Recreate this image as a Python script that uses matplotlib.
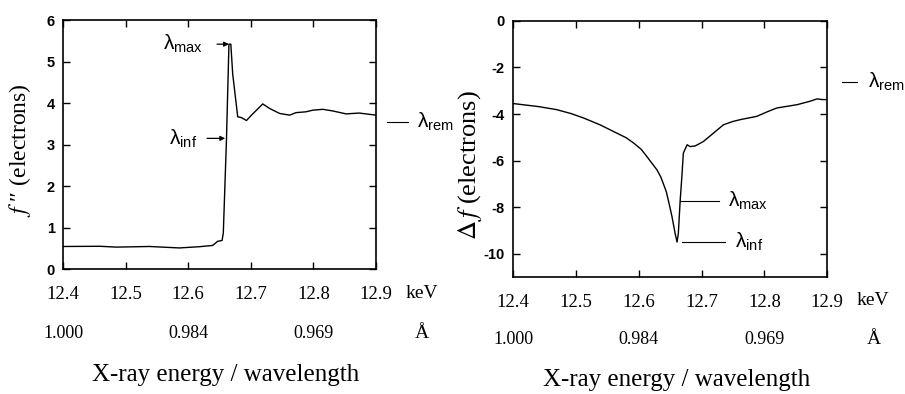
"""
Anomalous scattering factors f'' and delta-f across an absorption edge
"""
import matplotlib
matplotlib.use("Agg")
import matplotlib.pyplot as plt
from matplotlib.transforms import blended_transform_factory

plt.rcParams['mathtext.fontset'] = 'stix'

# f'' trace (keV, electrons)
fpp_kev = [12.400, 12.459, 12.485, 12.538, 12.586, 12.618, 12.639, 12.647, 12.654,
           12.656, 12.661, 12.665, 12.668, 12.671, 12.679, 12.685, 12.693, 12.701,
           12.709, 12.719, 12.730, 12.746, 12.762, 12.772, 12.788, 12.799, 12.815,
           12.831, 12.852, 12.873, 12.889, 12.900]
fpp_val = [0.545, 0.55, 0.53, 0.545, 0.51, 0.54, 0.57, 0.67, 0.69,
           0.87, 3.1, 5.42, 5.42, 4.7, 3.67, 3.65, 3.58, 3.71,
           3.83, 3.98, 3.87, 3.75, 3.71, 3.77, 3.79, 3.83, 3.85,
           3.81, 3.74, 3.76, 3.73, 3.71]

# delta-f trace (keV, electrons)
df_kev = [12.400, 12.440, 12.469, 12.492, 12.512, 12.538, 12.565, 12.580, 12.592,
          12.604, 12.613, 12.622, 12.629, 12.635, 12.639, 12.644, 12.647, 12.650,
          12.653, 12.656, 12.658, 12.661, 12.663, 12.666, 12.669, 12.671, 12.677,
          12.682, 12.690, 12.703, 12.719, 12.735, 12.750, 12.762, 12.788, 12.805,
          12.820, 12.852, 12.873, 12.884, 12.892, 12.899]
df_val = [-3.55, -3.68, -3.81, -3.98, -4.17, -4.46, -4.82, -5.02, -5.25,
          -5.52, -5.83, -6.15, -6.4, -6.7, -6.98, -7.35, -7.7, -8.05,
          -8.42, -8.85, -9.14, -9.5, -9.14, -7.7, -6.55, -5.68, -5.32,
          -5.4, -5.37, -5.18, -4.82, -4.46, -4.32, -4.24, -4.1, -3.9,
          -3.74, -3.6, -3.45, -3.35, -3.38, -3.38]

kev_ticks = [12.4, 12.5, 12.6, 12.7, 12.8, 12.9]
wl_ticks = [12.4, 12.6, 12.8]
wl_labels = ["1.000", "0.984", "0.969"]

SERIF = "Liberation Serif"
SANS = "Liberation Sans"


def lam(sub):
    return r"$\mathregular{\lambda_{%s}}$" % sub


def style_axes(ax, ylim, yticks, rows_y):
    ax.set_xlim(12.4, 12.9)
    ax.set_ylim(*ylim)
    ax.set_yticks(yticks)
    ax.set_yticklabels([str(v) for v in yticks], fontfamily=SANS,
                       fontweight="bold", fontsize=10.5)
    ax.set_xticks(kev_ticks)
    ax.set_xticklabels([f"{v:.1f}" for v in kev_ticks], fontfamily=SERIF, fontsize=13.5)
    ax.tick_params(direction="in", length=5, width=1, top=True, right=True)
    ax.tick_params(axis="x", pad=12)
    ax.tick_params(axis="y", pad=6)
    for s in ax.spines.values():
        s.set_linewidth(1.2)
    tr = blended_transform_factory(ax.transData, ax.transAxes)
    for x, lab in zip(wl_ticks, wl_labels):
        ax.text(x, rows_y[1], lab, transform=tr, ha="center", va="center",
                fontfamily=SERIF, fontsize=13)
    ax.text(1.147, rows_y[0], "keV", transform=ax.transAxes, ha="center",
            va="center", fontfamily=SERIF, fontsize=14)
    ax.text(1.147, rows_y[1], "Å", transform=ax.transAxes, ha="center",
            va="center", fontfamily=SERIF, fontsize=14)
    ax.text(0.52, rows_y[2], "X-ray energy / wavelength", transform=ax.transAxes,
            ha="center", va="center", fontfamily=SERIF, fontsize=18)


fig = plt.figure(figsize=(9.05, 3.94), dpi=100)

# left panel: f''
ax1 = fig.add_axes([0.0696, 0.317, 0.346, 0.632])
ax1.plot(fpp_kev, fpp_val, color="black", lw=1.0)
style_axes(ax1, (0, 6), [0, 1, 2, 3, 4, 5, 6], (-0.096, -0.257, -0.426))
ax1.text(-0.137, 0.478, r"$f$ ″ (electrons)", transform=ax1.transAxes,
         ha="center", va="center", rotation=90, fontfamily=SERIF, fontsize=17)

arrow = dict(arrowstyle="-|>", color="black", lw=0.9, mutation_scale=7,
             shrinkA=0, shrinkB=0)
ax1.annotate("", xy=(12.665, 5.42), xytext=(12.646, 5.42), arrowprops=arrow)
ax1.text(12.624, 5.42, lam("max"), ha="right", va="center", fontfamily=SANS, fontsize=15)
ax1.annotate("", xy=(12.659, 3.15), xytext=(12.630, 3.15), arrowprops=arrow)
ax1.text(12.614, 3.15, lam("inf"), ha="right", va="center", fontfamily=SANS, fontsize=15)
ax1.plot([12.918, 12.951], [3.54, 3.54], color="black", lw=0.8, clip_on=False)
ax1.text(12.966, 3.54, lam("rem"), ha="left", va="center", fontfamily=SANS,
         fontsize=15, clip_on=False)

# right panel: delta f
ax2 = fig.add_axes([0.567, 0.297, 0.347, 0.650])
ax2.plot(df_kev, df_val, color="black", lw=1.0)
style_axes(ax2, (-11, 0), [0, -2, -4, -6, -8, -10], (-0.09, -0.246, -0.402))
ax2.text(-0.137, 0.4375, r"$\Delta\,f$ (electrons)", transform=ax2.transAxes,
         ha="center", va="center", rotation=90, fontfamily=SERIF, fontsize=19)

ax2.plot([12.666, 12.727], [-7.73, -7.73], color="black", lw=0.8)
ax2.text(12.742, -7.73, lam("max"), ha="left", va="center", fontfamily=SANS, fontsize=15)
ax2.plot([12.669, 12.737], [-9.5, -9.5], color="black", lw=0.8)
ax2.text(12.754, -9.5, lam("inf"), ha="left", va="center", fontfamily=SANS, fontsize=15)
ax2.plot([12.924, 12.948], [-2.62, -2.62], color="black", lw=0.8, clip_on=False)
ax2.text(12.965, -2.62, lam("rem"), ha="left", va="center", fontfamily=SANS,
         fontsize=15, clip_on=False)

fig.savefig("out.png", dpi=100)
